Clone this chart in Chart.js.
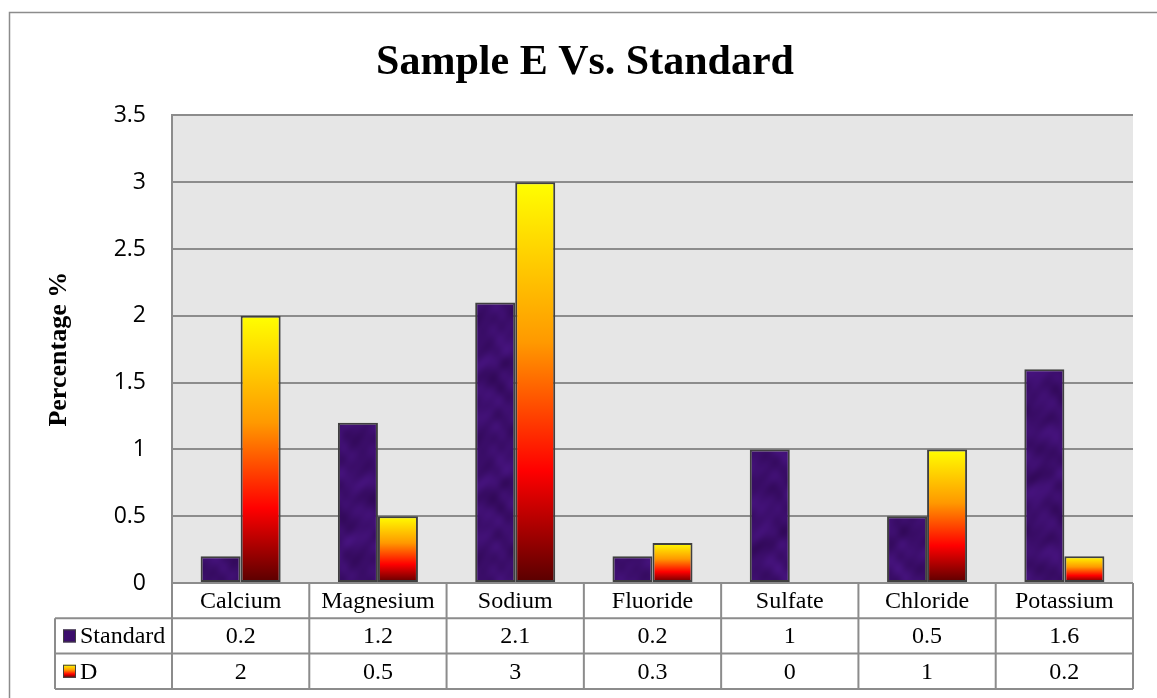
<!DOCTYPE html>
<html>
  <head>
    <script src="https://cdn.jsdelivr.net/npm/chart.js@4.4.0/dist/chart.umd.min.js"></script>
    <style>
      body {
        margin: 0;
        padding: 0;
        background: #ffffff;
      }
      #wrap {
        width: 1157px;
        height: 698px;
      }
      canvas {
        display: block;
      }
    </style>
  </head>
  <body>
    <div id="wrap">
      <canvas id="chart" width="1157" height="698"></canvas>
    </div>
    <script>
      const categories = ['Calcium', 'Magnesium', 'Sodium', 'Fluoride', 'Sulfate', 'Chloride', 'Potassium'];
      const seriesNames = ['Standard', 'D'];
      const standardValues = [0.2, 1.2, 2.1, 0.2, 1, 0.5, 1.6];
      const dValues = [2, 0.5, 3, 0.3, 0, 1, 0.2];
      const yMin = 0;
      const yMax = 3.5;
      const yStep = 0.5;

      const lineGray = '#8c8c8c';
      const serif = '"Liberation Serif", "Times New Roman", serif';

      // mottled purple fill, like the textured bars in the original
      function purplePattern(ctx) {
        const size = 120;
        const c = document.createElement('canvas');
        c.width = size;
        c.height = size;
        const g = c.getContext('2d');
        const img = g.createImageData(size, size);
        for (let y = 0; y < size; y++) {
          for (let x = 0; x < size; x++) {
            const n = (Math.sin(x * 0.157 + y * 0.052 + Math.sin(y * 0.105) * 2) +
                       Math.sin(y * 0.209 - x * 0.105 + 1.3 + Math.sin(x * 0.157)) +
                       Math.sin((x + 2 * y) * 0.052 + 2.1) * 0.7 +
                       Math.sin(x * 0.419 + y * 0.314) * 0.3) / 3;
            const i = (y * size + x) * 4;
            img.data[i] = 60 + n * 10;
            img.data[i + 1] = 14 + n * 5;
            img.data[i + 2] = 108 + n * 18;
            img.data[i + 3] = 255;
          }
        }
        g.putImageData(img, 0, 0);
        return ctx.createPattern(c, 'repeat');
      }

      function fireGradient(ctx, top, bottom) {
        const gr = ctx.createLinearGradient(0, top, 0, bottom);
        gr.addColorStop(0, '#ffff00');
        gr.addColorStop(0.4, '#ff9900');
        gr.addColorStop(0.72, '#ff0000');
        gr.addColorStop(1, '#580000');
        return gr;
      }

      const canvas = document.getElementById('chart');
      const purple = purplePattern(canvas.getContext('2d'));

      const plotBackground = {
        id: 'plotBackground',
        beforeDraw(chart) {
          const { ctx, chartArea: a } = chart;
          ctx.save();
          ctx.fillStyle = '#ffffff';
          ctx.fillRect(0, 0, chart.width, chart.height);
          ctx.fillStyle = '#e6e6e6';
          ctx.fillRect(a.left, a.top, a.right - a.left, a.bottom - a.top);
          ctx.restore();
        }
      };

      // data table under the plot, plus the outer frame
      const dataTable = {
        id: 'dataTable',
        afterDraw(chart) {
          const { ctx, chartArea: a, scales } = chart;
          const x = scales.x;
          const colW = (a.right - a.left) / categories.length;
          const rowH = 35.3;
          const legendLeft = 55;
          const rows = [a.bottom, a.bottom + rowH, a.bottom + rowH * 2, a.bottom + rowH * 3];

          ctx.save();
          ctx.fillStyle = '#ffffff';
          ctx.fillRect(legendLeft, rows[1], a.right - legendLeft, rows[3] - rows[1]);
          ctx.fillRect(a.left, rows[0], a.right - a.left, rows[1] - rows[0]);

          ctx.strokeStyle = lineGray;
          ctx.lineWidth = 2;
          ctx.beginPath();
          ctx.moveTo(a.left, rows[0]);
          ctx.lineTo(a.right, rows[0]);
          for (let r = 1; r < rows.length; r++) {
            ctx.moveTo(legendLeft, rows[r]);
            ctx.lineTo(a.right, rows[r]);
          }
          for (let i = 0; i <= categories.length; i++) {
            const xx = a.left + colW * i;
            ctx.moveTo(xx, rows[0]);
            ctx.lineTo(xx, rows[3]);
          }
          ctx.moveTo(legendLeft, rows[1]);
          ctx.lineTo(legendLeft, rows[3]);
          ctx.stroke();

          ctx.fillStyle = '#000000';
          ctx.font = '24px ' + serif;
          ctx.textAlign = 'center';
          ctx.textBaseline = 'middle';
          const allValues = [standardValues, dValues];
          categories.forEach((cat, i) => {
            const cx = x.getPixelForValue(i);
            ctx.fillText(cat, cx, (rows[0] + rows[1]) / 2 + 1);
            allValues.forEach((vals, s) => {
              ctx.fillText(String(vals[i]), cx, (rows[s + 1] + rows[s + 2]) / 2 + 1);
            });
          });

          // legend keys
          ctx.textAlign = 'left';
          seriesNames.forEach((name, s) => {
            const cy = (rows[s + 1] + rows[s + 2]) / 2;
            const kx = 63, ky = cy - 6.5, k = 13;
            ctx.fillStyle = s === 0 ? purple : fireGradient(ctx, ky, ky + k);
            ctx.fillRect(kx, ky, k, k);
            ctx.strokeStyle = '#404040';
            ctx.lineWidth = 1;
            ctx.strokeRect(kx + 0.5, ky + 0.5, k - 1, k - 1);
            ctx.fillStyle = '#000000';
            ctx.fillText(name, 80, cy + 1);
          });

          // outer frame (top and left edges only are visible)
          ctx.strokeStyle = lineGray;
          ctx.lineWidth = 1.5;
          ctx.beginPath();
          ctx.moveTo(9.5, chart.height);
          ctx.lineTo(9.5, 12.5);
          ctx.lineTo(chart.width, 12.5);
          ctx.stroke();
          ctx.restore();
        }
      };

      new Chart(canvas, {
        type: 'bar',
        data: {
          labels: categories,
          datasets: [
            {
              label: seriesNames[0],
              data: standardValues,
              backgroundColor: purple,
              borderColor: '#404040',
              borderWidth: 2,
              borderSkipped: false
            },
            {
              label: seriesNames[1],
              data: dValues,
              backgroundColor: function(context) {
                const chart = context.chart;
                const y = chart.scales.y;
                if (!chart.chartArea || !y) return '#ff8000';
                const top = y.getPixelForValue(context.raw);
                const bottom = y.getPixelForValue(0);
                if (bottom - top < 1) return '#ff0000';
                return fireGradient(chart.ctx, top, bottom);
              },
              borderColor: '#404040',
              borderWidth: function(context) {
                return context.raw === 0 ? 0 : 2;
              },
              borderSkipped: false
            }
          ]
        },
        options: {
          responsive: false,
          animation: false,
          devicePixelRatio: 1,
          layout: {
            padding: { left: 37, right: 24, top: 0, bottom: 0 }
          },
          categoryPercentage: 0.583,
          barPercentage: 1,
          plugins: {
            legend: { display: false },
            tooltip: { enabled: false },
            title: {
              display: true,
              text: 'Sample E Vs. Standard',
              color: '#000000',
              font: { family: serif, size: 42, weight: 'bold', lineHeight: 1.2 },
              padding: { top: 38, bottom: 27 }
            }
          },
          scales: {
            x: {
              grid: { display: false, drawTicks: false },
              border: { display: false },
              ticks: { display: false },
              afterFit: function(scale) {
                scale.height = 115;
              }
            },
            y: {
              min: yMin,
              max: yMax,
              ticks: {
                stepSize: yStep,
                color: '#000000',
                padding: 26,
                font: { family: '"Open Sans", sans-serif', size: 23 },
                callback: function(value) {
                  return String(parseFloat(value.toFixed(2)));
                }
              },
              grid: {
                color: lineGray,
                lineWidth: 2,
                drawTicks: false
              },
              border: { display: true, color: lineGray, width: 2 },
              title: {
                display: true,
                text: 'Percentage %',
                color: '#000000',
                font: { family: serif, size: 26, weight: 'bold', lineHeight: 1.2 },
                padding: { top: 7, bottom: 0 }
              },
              afterFit: function(scale) {
                scale.width = 135;
              }
            }
          }
        },
        plugins: [plotBackground, dataTable]
      });
    </script>
  </body>
</html>
